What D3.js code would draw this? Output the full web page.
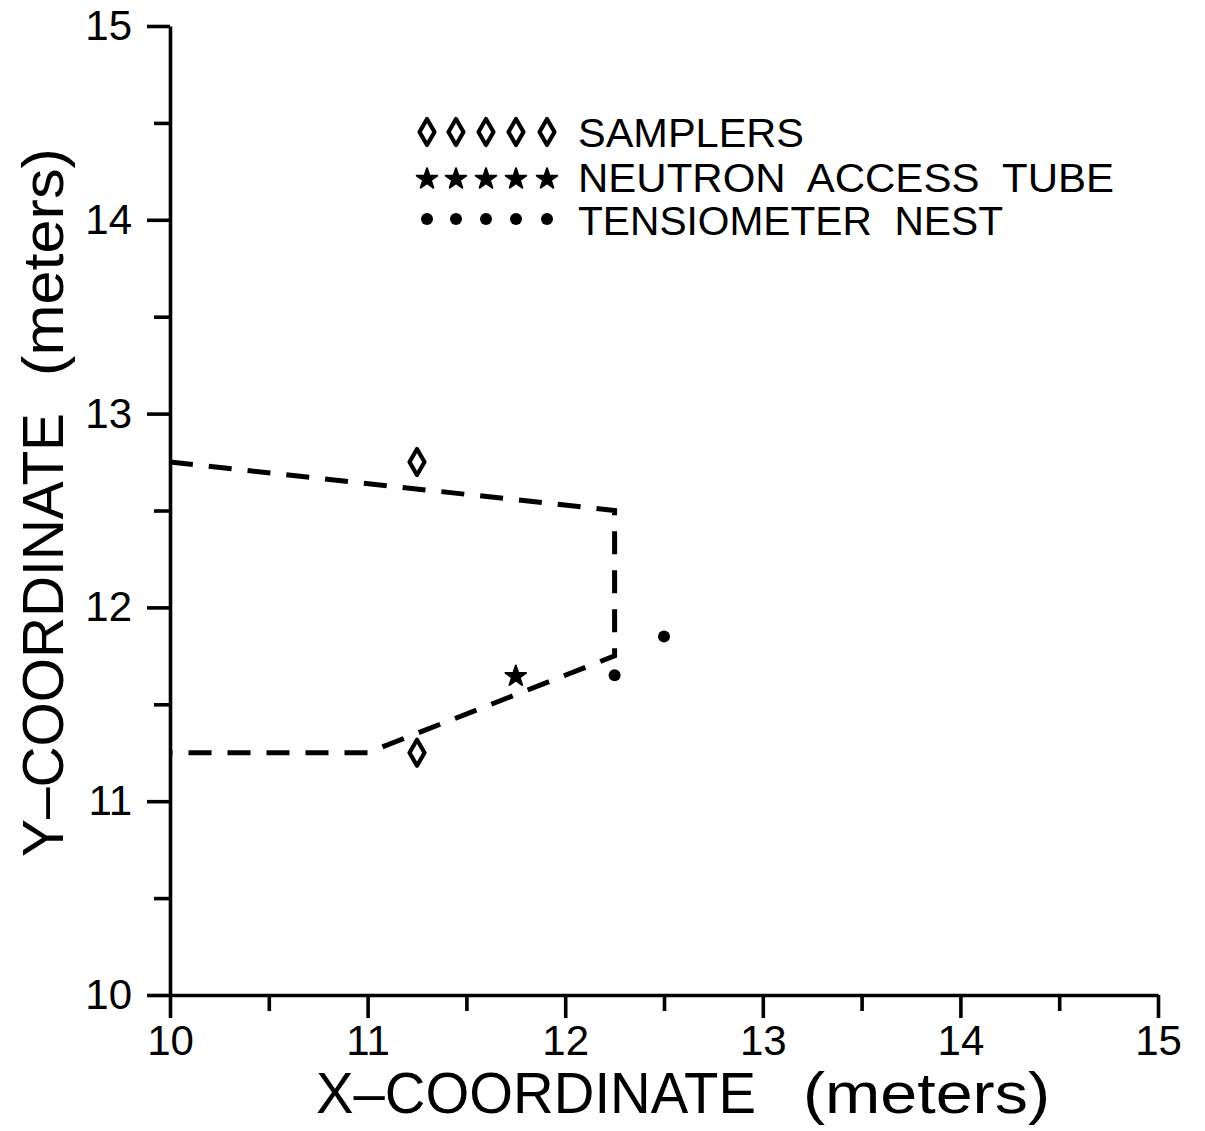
<!DOCTYPE html>
<html>
<head>
<meta charset="utf-8">
<script src="https://cdn.jsdelivr.net/npm/d3@7"></script>
<style>
  html, body { margin: 0; padding: 0; background: #fff; }
  svg { display: block; }
  text { font-family: "Liberation Sans", Arial, sans-serif; fill: #000; }
</style>
</head>
<body>
<svg id="chart" width="1205" height="1131"></svg>
<script>
// ---- data ----
const xMajorTicks = [10, 11, 12, 13, 14, 15];
const yMajorTicks = [10, 11, 12, 13, 14, 15];
const xMinorTicks = [10.5, 11.5, 12.5, 13.5, 14.5];
const yMinorTicks = [10.5, 11.5, 12.5, 13.5, 14.5];

const samplersX = [11.25, 11.25];
const samplersY = [12.75, 11.25];
const neutronX = [11.75];
const neutronY = [11.65];
const tensX = [12.25, 12.5];
const tensY = [11.65, 11.85];

const boundaryX = [10, 12.25, 12.25, 11, 10];
const boundaryY = [12.75, 12.5, 11.75, 11.25, 11.25];

const legendLabels = ["SAMPLERS", "NEUTRON  ACCESS  TUBE", "TENSIOMETER  NEST"];
const xTitleParts = ["X\u2013COORDINATE", "(meters)"];
const yTitleParts = ["Y\u2013COORDINATE", "(meters)"];

// ---- drawing ----
const svg = d3.select("#chart");
const x = d3.scaleLinear().domain([10, 15]).range([170, 1158]);
const y = d3.scaleLinear().domain([10, 15]).range([995, 26]);

const AX_W = 3.6;

// axes
const gx = svg.append("g").attr("transform", `translate(0,${y(10)})`);
gx.call(d3.axisBottom(x).tickValues(xMajorTicks).tickSize(23).tickSizeOuter(0).tickPadding(7).tickFormat(d3.format("d")));
const gxm = svg.append("g").attr("transform", `translate(0,${y(10)})`);
gxm.call(d3.axisBottom(x).tickValues(xMinorTicks).tickSize(16).tickSizeOuter(0).tickFormat(""));
gxm.select(".domain").remove();

const gy = svg.append("g").attr("transform", `translate(${x(10)},0)`);
gy.call(d3.axisLeft(y).tickValues(yMajorTicks).tickSize(23).tickSizeOuter(0).tickPadding(15).tickFormat(d3.format("d")));
const gym = svg.append("g").attr("transform", `translate(${x(10)},0)`);
gym.call(d3.axisLeft(y).tickValues(yMinorTicks).tickSize(16).tickSizeOuter(0).tickFormat(""));
gym.select(".domain").remove();

svg.selectAll(".domain, .tick line").attr("stroke", "#000").attr("stroke-width", AX_W);
svg.selectAll(".tick text")
  .style("font-family", "'Liberation Sans', Arial, sans-serif")
  .attr("font-size", 42).attr("fill", "#000");

// boundary dashed line
const line = d3.line().x(d => x(d[0])).y(d => y(d[1]));
svg.append("path")
  .datum(boundaryX.map((v, i) => [v, boundaryY[i]]))
  .attr("d", line)
  .attr("fill", "none")
  .attr("stroke", "#000")
  .attr("stroke-width", 5)
  .attr("stroke-dasharray", "23 16");

// marker generators
function diamondPath(w, h) {
  return `M0,${-h/2}L${w/2},0L0,${h/2}L${-w/2},0Z`;
}
const starPath = d3.symbol(d3.symbolStar, 130)();

function drawDiamond(g, cx, cy) {
  g.append("path").attr("d", diamondPath(15, 26))
    .attr("transform", `translate(${cx},${cy})`)
    .attr("fill", "none").attr("stroke", "#000").attr("stroke-width", 4.2)
    .attr("stroke-linejoin", "round");
}
function drawStar(g, cx, cy) {
  g.append("path").attr("d", starPath)
    .attr("transform", `translate(${cx},${cy + 1})`)
    .attr("fill", "#000").attr("stroke", "#000").attr("stroke-width", 2)
    .attr("stroke-linejoin", "round");
}
function drawDot(g, cx, cy) {
  g.append("circle").attr("cx", cx).attr("cy", cy).attr("r", 6).attr("fill", "#000");
}

const gm = svg.append("g");
samplersX.forEach((v, i) => drawDiamond(gm, x(v), y(samplersY[i])));
neutronX.forEach((v, i) => drawStar(gm, x(v), y(neutronY[i])));
tensX.forEach((v, i) => drawDot(gm, x(v), y(tensY[i])));

// legend
const legendMarkerX = [427, 456, 486, 516, 547];
const legendRowY = [132, 178, 219];
const legendBaseline = [147, 192, 235];
const legendWidths = [226, 536, 425];
const gl = svg.append("g");
legendMarkerX.forEach(mx => {
  drawDiamond(gl, mx, legendRowY[0]);
  drawStar(gl, mx, legendRowY[1]);
  drawDot(gl, mx, legendRowY[2]);
});
legendLabels.forEach((t, i) => {
  gl.append("text")
    .attr("x", 578).attr("y", legendBaseline[i])
    .attr("font-size", 40)
    .attr("textLength", legendWidths[i])
    .attr("lengthAdjust", "spacingAndGlyphs")
    .style("white-space", "pre")
    .text(t);
});

// axis titles
svg.append("text").attr("x", 316).attr("y", 1113).attr("font-size", 57)
  .attr("textLength", 440).attr("lengthAdjust", "spacingAndGlyphs").text(xTitleParts[0]);
svg.append("text").attr("x", 803).attr("y", 1113).attr("font-size", 57)
  .attr("textLength", 247).attr("lengthAdjust", "spacingAndGlyphs").text(xTitleParts[1]);

svg.append("text").attr("transform", "translate(63,857) rotate(-90)").attr("font-size", 57)
  .attr("textLength", 444).attr("lengthAdjust", "spacingAndGlyphs").text(yTitleParts[0]);
svg.append("text").attr("transform", "translate(63,376) rotate(-90)").attr("font-size", 57)
  .attr("textLength", 228).attr("lengthAdjust", "spacingAndGlyphs").text(yTitleParts[1]);
</script>
</body>
</html>
